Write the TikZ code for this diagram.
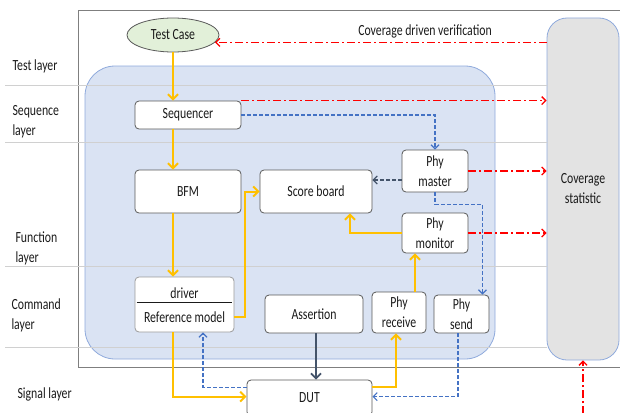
\documentclass[tikz,border=0pt]{standalone}
\usepackage{fontspec}
\setmainfont{Carlito}[FakeStretch=0.76]
\usetikzlibrary{arrows.meta,shapes.geometric}

\definecolor{amber}{HTML}{FFC000}
\definecolor{covred}{HTML}{FF0000}
\definecolor{linkblue}{HTML}{4472C4}
\definecolor{slate}{HTML}{44546A}
\definecolor{boxgray}{HTML}{595959}
\definecolor{framegray}{HTML}{7F7F7F}
\definecolor{layerline}{HTML}{D0D0D0}
\definecolor{envfill}{HTML}{DAE3F3}
\definecolor{envedge}{HTML}{8FAADC}
\definecolor{covfill}{HTML}{E3E3E3}
\definecolor{casefill}{HTML}{E2F0D9}
\definecolor{ink}{HTML}{1A1A1A}

\tikzset{
  blk/.style={draw=boxgray, line width=0.8pt, fill=white, rounded corners=4pt,
    align=center, inner sep=0pt, text=ink},
  layerlbl/.style={anchor=west, align=left, text=ink},
  flow/.style={amber, line width=2pt, -{Straight Barb[length=5pt,width=10pt]}},
  ctrl/.style={linkblue, line width=1.2pt, dash pattern=on 4pt off 2pt,
    -{Straight Barb[length=4pt,width=8pt]}},
  ctrldark/.style={slate, line width=1.2pt, dash pattern=on 4pt off 2pt,
    -{Straight Barb[length=4pt,width=8pt]}},
  cover/.style={covred, line width=1.3pt, dash pattern=on 8pt off 3pt on 2pt off 3pt,
    -{Straight Barb[length=4pt,width=8pt]}},
  assertline/.style={slate, line width=1.8pt, -{Straight Barb[length=5pt,width=10pt]}},
}

\begin{document}
\begin{tikzpicture}[x=1pt, y=-1pt, font=\fontsize{15.5}{20}\selectfont]
\useasboundingbox (0,0) rectangle (620,412);
\clip (0,0) rectangle (620,412);

% outer verification frame (open to the right)
\draw[framegray, line width=1pt] (622,11) -- (78,11) -- (78,367) -- (622,367);

% testbench environment and coverage collector
\node[draw=envedge, fill=envfill, line width=0.8pt, rounded corners=30pt,
  minimum width=410pt, minimum height=293pt, inner sep=0pt] (env) at (290,212.5) {};
\node[draw=envedge, fill=covfill, line width=0.8pt, rounded corners=20pt,
  minimum width=72pt, minimum height=342pt, inner sep=0pt, align=center, text=ink]
  (cov) at (583,189) {Coverage\\statistic};

% layer separators
\foreach \yy in {85,142,266,347}
  \draw[layerline, line width=0.7pt] (5,\yy) -- (cov.west |- 0,\yy);

% layer labels
\node[layerlbl] (ltest) at (9,66) {Test layer};
\node[layerlbl] (lseq) at (9,122) {Sequence\\layer};
\node[layerlbl] (lfun) at (12,248) {Function\\layer};
\node[layerlbl] (lcmd) at (8,315) {Command\\layer};
\node[layerlbl] (lsig) at (14,394) {Signal layer};

% components
\node[ellipse, draw=boxgray, line width=0.8pt, fill=casefill, minimum width=92pt,
  minimum height=34pt, inner sep=0pt, text=ink] (tc) at (173,35) {Test Case};
\node[blk, minimum width=106pt, minimum height=28pt] (seq) at (188,115) {Sequencer};
\node[blk, minimum width=106pt, minimum height=43pt] (bfm) at (188,191.5) {BFM};
\node[blk, minimum width=112pt, minimum height=43pt] (sb) at (316,191.5) {Score board};
\node[blk, minimum width=66pt, minimum height=42pt] (pm) at (435,171) {Phy\\master};
\node[blk, minimum width=66pt, minimum height=40pt] (pmon) at (435,233) {Phy\\monitor};
\node[blk, minimum width=98pt, minimum height=38pt] (as) at (314,314) {Assertion};
\node[blk, minimum width=54pt, minimum height=41pt] (pr) at (399,312.5) {Phy\\receive};
\node[blk, minimum width=55pt, minimum height=38pt] (ps) at (461.5,314) {Phy\\send};
\node[blk, minimum width=125pt, minimum height=36pt] (dut) at (309.5,398) {DUT};

% driver with reference model
\node[blk, draw=boxgray!60, minimum width=99pt, minimum height=55pt] (drv) at (184.5,304.5) {};
\node[text=ink, inner sep=0pt] (drvtxt) at (184.5,293) {driver};
\node[text=ink, inner sep=0pt] (reftxt) at (184.5,317) {Reference model};
\draw[ink, line width=1pt] ([xshift=2pt,yshift=2.5pt]drv.west) -- ([xshift=-2pt,yshift=2.5pt]drv.east);

% coverage feedback label
\node[text=ink] (cdv) at (425,31) {Coverage driven verification};

% main stimulus flow
\draw[flow] (tc.south) -- (tc.south |- seq.north);
\draw[flow] (tc.south |- seq.south) -- (tc.south |- bfm.north);
\draw[flow] (tc.south |- bfm.south) -- (tc.south |- drv.north);
\draw[flow] ([yshift=-12.5pt]drv.east) -- ++(11,0) |- (sb.west);
\draw[flow] (pmon.west) -| ([xshift=34pt]sb.south);
\draw[flow] ([xshift=16pt]pr.north) -- ([xshift=16pt]pr.north |- pmon.south);
\draw[flow] ([yshift=-7pt]dut.north east) -| ([xshift=-3pt]pr.south);
\draw[flow] (tc.south |- drv.south) |- ([yshift=-17pt]dut.north west);

% control and response links
\draw[ctrl] (seq.east) -| (pm.north);
\draw[ctrldark] ([yshift=-9pt]pm.west) -- ([yshift=-9pt]pm.west -| sb.east);
\draw[ctrl] (pm.south) -- ++(0,12) -| ([xshift=-7pt]ps.north east);
\draw[ctrl] ([xshift=-3.5pt]ps.south) |- ([yshift=-17pt]dut.north east);
\draw[ctrl] ([yshift=-8pt]dut.north west) -| ([xshift=18.5pt]drv.south);
\draw[assertline] ([xshift=2pt]as.south) -- ([xshift=2pt]as.south |- dut.north);

% coverage links
\draw[cover] (cov.west |- tc.-10) -- (tc.-10);
\draw[cover] (seq.north east) -- (cov.west |- seq.north east);
\draw[cover] (pm.east) -- (cov.west |- pm.east);
\draw[cover] (pmon.east) -- (cov.west |- pmon.east);
\coordinate (covin) at (583,414);
\draw[cover] (covin) -- (cov.south);
\end{tikzpicture}
\end{document}
